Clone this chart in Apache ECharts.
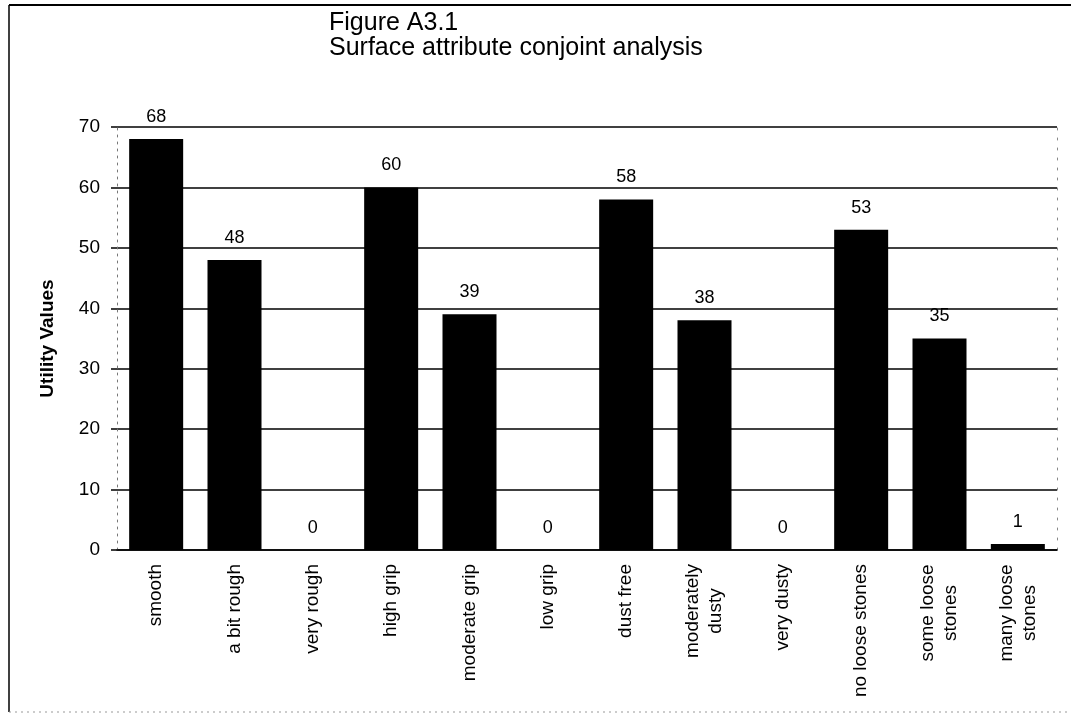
<!DOCTYPE html>
<html>
<head>
<meta charset="utf-8">
<style>
  html, body { margin: 0; padding: 0; background: #fff; }
  #chart { width: 1071px; height: 722px; }
</style>
<script src="https://cdn.jsdelivr.net/npm/echarts@6/dist/echarts.min.js"></script>
</head>
<body>
<div id="chart"></div>
<script>
// Surface attributes and their utility values
const categories = [
  'smooth', 'a bit rough', 'very rough',
  'high grip', 'moderate grip', 'low grip',
  'dust free', 'moderately\ndusty', 'very dusty',
  'no loose stones', 'some loose\nstones', 'many loose\nstones'
];
const utilityValues = [68, 48, 0, 60, 39, 0, 58, 38, 0, 53, 35, 1];
const yTicks = { min: 0, max: 70, interval: 10 };

const FONT = '"Liberation Sans", Arial, Helvetica, sans-serif';
const LABEL_SIZE = 19;
const LABEL_LINE = 23;

// Multi-line category labels: each line gets a box as wide as the longest
// line so that the shorter line is centred under it.
const measureCtx = document.createElement('canvas').getContext('2d');
measureCtx.font = LABEL_SIZE + 'px ' + FONT;
const rich = {};
categories.forEach((c, i) => {
  if (c.indexOf('\n') >= 0) {
    const w = Math.max(...c.split('\n').map(s => measureCtx.measureText(s).width));
    rich['c' + i] = {
      width: Math.ceil(w), align: 'center',
      fontSize: LABEL_SIZE, fontFamily: FONT, color: '#000', lineHeight: LABEL_LINE
    };
  }
});

const chart = echarts.init(document.getElementById('chart'), null, { renderer: 'canvas' });
chart.setOption({
  animation: false,
  backgroundColor: '#fff',
  title: {
    text: 'Figure A3.1\nSurface attribute conjoint analysis',
    left: 324,
    top: 6,
    textStyle: { fontFamily: FONT, fontSize: 25, fontWeight: 'normal', color: '#000', lineHeight: 25 }
  },
  graphic: [
    { type: 'line', shape: { x1: 9, y1: 5, x2: 1071, y2: 5 }, style: { stroke: '#000', lineWidth: 2 } },
    { type: 'line', shape: { x1: 9, y1: 5, x2: 9, y2: 712 }, style: { stroke: '#000', lineWidth: 1.5 } },
    { type: 'line', shape: { x1: 9, y1: 712, x2: 1071, y2: 712 }, style: { stroke: '#999', lineWidth: 1, lineDash: [2, 4] } }
  ],
  grid: { left: 117, right: 14, top: 127, bottom: 172, containLabel: false },
  xAxis: {
    type: 'category',
    data: categories,
    axisLine: { show: true, lineStyle: { color: '#000', width: 1.5 } },
    axisTick: { show: false },
    axisLabel: {
      rotate: 90,
      margin: 14,
      interval: 0,
      fontFamily: FONT,
      fontSize: LABEL_SIZE,
      color: '#000',
      lineHeight: LABEL_LINE,
      rich: rich,
      formatter: (value, idx) => {
        if (value.indexOf('\n') < 0) return value;
        return value.split('\n').map(s => '{c' + idx + '|' + s + '}').join('\n');
      }
    }
  },
  yAxis: [
    {
      type: 'value',
      min: yTicks.min,
      max: yTicks.max,
      interval: yTicks.interval,
      name: 'Utility Values',
      nameLocation: 'middle',
      nameGap: 60,
      nameTextStyle: { fontFamily: FONT, fontSize: 19, fontWeight: 'bold', color: '#000' },
      axisLine: { show: true, lineStyle: { color: '#777', width: 1, type: [2, 5] } },
      axisTick: { show: true, length: 6, lineStyle: { color: '#000', width: 1.5 } },
      axisLabel: { margin: 17, fontFamily: FONT, fontSize: 19, color: '#000' },
      splitLine: { show: true, lineStyle: { color: '#000', width: 1.5 } }
    },
    {
      type: 'value',
      position: 'right',
      min: yTicks.min,
      max: yTicks.max,
      interval: yTicks.interval,
      axisLine: { show: true, lineStyle: { color: '#888', width: 1, type: [2, 8] } },
      axisTick: { show: false },
      axisLabel: { show: false },
      splitLine: { show: false }
    }
  ],
  series: [{
    type: 'bar',
    data: utilityValues,
    barWidth: 54,
    itemStyle: { color: '#000' },
    label: {
      show: true,
      position: 'top',
      distance: 13,
      fontFamily: FONT,
      fontSize: 18,
      color: '#000'
    }
  }]
});
</script>
</body>
</html>
